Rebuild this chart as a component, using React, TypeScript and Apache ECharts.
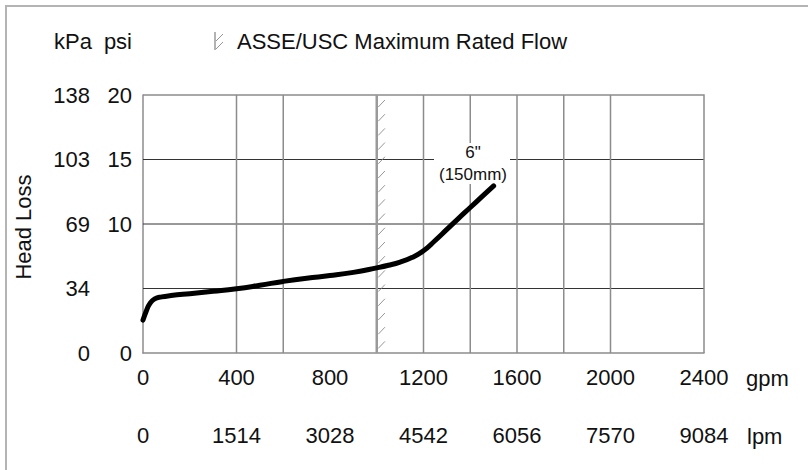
import React, { useEffect, useRef } from "react";
import * as echarts from "echarts";

// ---- data ----
const GPM_MIN = 0;
const GPM_MAX = 2400;
const GPM_STEP = 400;
const GPM_LABELS = ["0", "400", "800", "1200", "1600", "2000", "2400"];
const LPM_LABELS = ["0", "1514", "3028", "4542", "6056", "7570", "9084"];
const PSI_MIN = 0;
const PSI_MAX = 20;
const PSI_STEP = 5;
const PSI_LABELS = ["0", "", "10", "15", "20"];
const KPA_LABELS = ["0", "34", "69", "103", "138"];
const VERTICAL_GRID = [400, 600, 1200, 1400, 1600, 1800, 2000];
const HORIZONTAL_GRID = [5, 10, 15];
const RATED_FLOW_BAND = [1000, 1035];
const FLOW_GPM = [0, 15, 30, 50, 80, 120, 200, 300, 400, 500, 600, 700, 800, 900, 1000, 1050, 1100, 1150, 1200, 1250, 1300, 1350, 1400, 1450, 1500];
const HEAD_LOSS_PSI = [2.55, 3.3, 3.85, 4.2, 4.35, 4.45, 4.6, 4.78, 4.98, 5.25, 5.55, 5.8, 6.0, 6.25, 6.6, 6.8, 7.05, 7.4, 7.92, 8.72, 9.58, 10.44, 11.28, 12.12, 12.95];
const CURVE_LABEL = '6"\n(150mm)';
const LEGEND_TEXT = "ASSE/USC Maximum Rated Flow";

const FONT = "Liberation Sans, Arial, sans-serif";
const TXT = "#111";
const GRAY = "#8c8c8c";

export default function App() {
  const ref = useRef<HTMLDivElement>(null);
  useEffect(() => {
    if (!ref.current) return;
    const chart = echarts.init(ref.current, null, { renderer: "svg" });
    const option: any = {
      animation: false,
      backgroundColor: "#fff",
      textStyle: { fontFamily: FONT },
      grid: { left: 143, top: 95, right: 104, bottom: 117, containLabel: false, outerBoundsMode: "none" },
      xAxis: [
        {
          type: "value", min: GPM_MIN, max: GPM_MAX, interval: GPM_STEP, position: "bottom",
          axisLine: { show: true, lineStyle: { color: GRAY, width: 1.5 } },
          axisTick: { show: false }, splitLine: { show: false },
          axisLabel: {
            color: TXT, fontSize: 22, fontFamily: FONT, margin: 13, showMinLabel: true, showMaxLabel: true,
            formatter: (v: number) => GPM_LABELS[Math.round(v / GPM_STEP)] ?? "",
          },
        },
        {
          type: "value", min: GPM_MIN, max: GPM_MAX, interval: GPM_STEP, position: "bottom", offset: 58,
          axisLine: { show: false }, axisTick: { show: false }, splitLine: { show: false },
          axisLabel: {
            color: TXT, fontSize: 22, fontFamily: FONT, margin: 13, showMinLabel: true, showMaxLabel: true,
            formatter: (v: number) => LPM_LABELS[Math.round(v / GPM_STEP)] ?? "",
          },
        },
      ],
      yAxis: [
        {
          type: "value", min: PSI_MIN, max: PSI_MAX, interval: PSI_STEP, position: "left",
          axisLine: { show: true, lineStyle: { color: GRAY, width: 1.5 } },
          axisTick: { show: false }, splitLine: { show: false },
          axisLabel: {
            color: TXT, fontSize: 22, fontFamily: FONT, margin: 11,
            formatter: (v: number) => PSI_LABELS[Math.round(v / PSI_STEP)] ?? "",
          },
        },
        {
          type: "value", min: PSI_MIN, max: PSI_MAX, interval: PSI_STEP, position: "left", offset: 42,
          axisLine: { show: false }, axisTick: { show: false }, splitLine: { show: false },
          axisLabel: {
            color: TXT, fontSize: 22, fontFamily: FONT, margin: 11,
            formatter: (v: number) => KPA_LABELS[Math.round(v / PSI_STEP)] ?? "",
          },
        },
      ],
      series: [
        {
          type: "custom", name: "hgrid", z: 1, silent: true,
          data: HORIZONTAL_GRID.map((v) => [GPM_MIN, v]),
          encode: { x: 0, y: 1 },
          renderItem: (_p: any, api: any) => {
            const v = api.value(1);
            const a = api.coord([GPM_MIN, v]);
            const b = api.coord([GPM_MAX, v]);
            return { type: "line", shape: { x1: a[0], y1: a[1], x2: b[0], y2: b[1] }, style: { stroke: "#333", lineWidth: 1 } };
          },
        },
        {
          type: "custom", name: "vgrid", z: 1, silent: true,
          data: VERTICAL_GRID.map((v) => [v, PSI_MIN]),
          encode: { x: 0, y: 1 },
          renderItem: (_p: any, api: any) => {
            const v = api.value(0);
            const a = api.coord([v, PSI_MIN]);
            const b = api.coord([v, PSI_MAX]);
            return { type: "line", shape: { x1: a[0], y1: a[1], x2: b[0], y2: b[1] }, style: { stroke: GRAY, lineWidth: 1.5 } };
          },
        },
        {
          type: "custom", name: "frame", z: 1, silent: true,
          data: [[GPM_MAX, PSI_MAX]],
          encode: { x: 0, y: 1 },
          renderItem: (_p: any, api: any) => {
            const tl = api.coord([GPM_MIN, PSI_MAX]);
            const tr = api.coord([GPM_MAX, PSI_MAX]);
            const br = api.coord([GPM_MAX, PSI_MIN]);
            return {
              type: "polyline",
              shape: { points: [tl, tr, br] },
              style: { stroke: GRAY, lineWidth: 1.5, fill: "none" },
            };
          },
        },
        {
          type: "custom", name: "band", z: 2, silent: true,
          data: [[RATED_FLOW_BAND[0], RATED_FLOW_BAND[1]]],
          renderItem: (_p: any, api: any) => {
            const x0 = api.coord([api.value(0), PSI_MIN]);
            const x1 = api.coord([api.value(1), PSI_MAX]);
            const left = x0[0];
            const w = x1[0] - x0[0];
            const top = x1[1];
            const bottom = x0[1];
            const children: any[] = [
              { type: "line", shape: { x1: left, y1: top, x2: left, y2: bottom }, style: { stroke: "#9a9a9a", lineWidth: 2.5 } },
            ];
            for (let y = top + 12; y <= bottom; y += 14.2) {
              children.push({
                type: "line",
                shape: { x1: left + 1.5, y1: y, x2: left + w, y2: y - 7 },
                style: { stroke: "#8a8a8a", lineWidth: 0.9 },
              });
            }
            return { type: "group", children };
          },
        },
        {
          type: "line", name: "6in", z: 10, smooth: 0.5, symbol: "none", silent: true,
          data: FLOW_GPM.map((g, i) => [g, HEAD_LOSS_PSI[i]]),
          lineStyle: { color: "#000", width: 5, cap: "round", join: "round" },
        },
      ],
      graphic: [
        {
          type: "rect", z: -10, silent: true,
          shape: { x: 6, y: 6, width: 900, height: 600 },
          style: { fill: "none", stroke: "#b4b4b4", lineWidth: 2 },
        },
        { type: "text", x: 92, y: 41, style: { text: "kPa", font: `22px ${FONT}`, fill: TXT, textAlign: "right", textVerticalAlign: "middle" } },
        { type: "text", x: 132, y: 41, style: { text: "psi", font: `22px ${FONT}`, fill: TXT, textAlign: "right", textVerticalAlign: "middle" } },
        {
          type: "group", silent: true,
          children: [
            { type: "line", shape: { x1: 215, y1: 32, x2: 215, y2: 50 }, style: { stroke: "#9a9a9a", lineWidth: 1.5 } },
            { type: "line", shape: { x1: 216, y1: 41, x2: 223, y2: 34 }, style: { stroke: "#8a8a8a", lineWidth: 0.9 } },
            { type: "line", shape: { x1: 216, y1: 49, x2: 223, y2: 42 }, style: { stroke: "#8a8a8a", lineWidth: 0.9 } },
          ],
        },
        { type: "text", x: 237, y: 41, style: { text: LEGEND_TEXT, font: `22px ${FONT}`, fill: TXT, textAlign: "left", textVerticalAlign: "middle" } },
        {
          type: "text", x: 23, y: 227, rotation: Math.PI / 2,
          style: { text: "Head Loss", font: `22px ${FONT}`, fill: TXT, textAlign: "center", textVerticalAlign: "middle" },
        },
        { type: "text", x: 746, y: 378, style: { text: "gpm", font: `22px ${FONT}`, fill: TXT, textAlign: "left", textVerticalAlign: "middle" } },
        { type: "text", x: 747, y: 436, style: { text: "lpm", font: `22px ${FONT}`, fill: TXT, textAlign: "left", textVerticalAlign: "middle" } },
        { type: "rect", z: 5, silent: true, shape: { x: 434, y: 143, width: 76, height: 41 }, style: { fill: "#fff" } },
        {
          type: "text", z: 6, x: 473, y: 163,
          style: { text: CURVE_LABEL, font: `17px ${FONT}`, lineHeight: 22, fill: TXT, textAlign: "center", textVerticalAlign: "middle" },
        },
      ],
    };
    chart.setOption(option);
    return () => chart.dispose();
  }, []);
  return <div ref={ref} style={{ position: "absolute", left: 0, top: 0, width: 808, height: 470 }} />;
}
